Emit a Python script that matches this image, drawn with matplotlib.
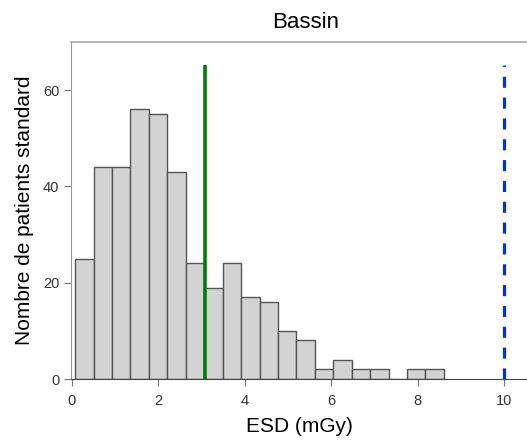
import matplotlib
matplotlib.use("Agg")
from matplotlib import pyplot as plt
import numpy as np

# Histogram counts (20 equal bins between the min and max ESD)
counts = [25, 44, 44, 56, 55, 43, 24, 19, 24, 17,
          16, 10, 8, 2, 4, 2, 2, 0, 2, 2]
esd_min = 0.08
esd_max = 8.6

# Reference lines
median_esd = 3.09
ndr_esd = 10.0
line_top = 65.3

x_ticks = [0, 2, 4, 6, 8, 10]
y_ticks = [0, 20, 40, 60]

plt.rcParams['font.family'] = ['Liberation Sans', 'DejaVu Sans']
plt.rcParams['lines.scale_dashes'] = False

fig = plt.figure(figsize=(5.27, 4.4), dpi=100)
ax = fig.add_axes([71 / 527, 61 / 440, 456 / 527, 337 / 440])

edges = np.linspace(esd_min, esd_max, len(counts) + 1)
ax.bar(edges[:-1], counts, width=np.diff(edges), align='edge',
       color='#d3d3d3', edgecolor='#555555', linewidth=1.0)

ax.plot([median_esd, median_esd], [0, line_top], color='#008000',
        linewidth=2.6, solid_capstyle='butt')
ax.plot([ndr_esd, ndr_esd], [0, line_top], color='#0033dd',
        linewidth=2.3, dashes=(8, 7), dash_capstyle='butt')

ax.set_xlim(-0.015, 10.52)
ax.set_ylim(0, 70)
ax.set_xticks(x_ticks)
ax.set_yticks(y_ticks)

ax.spines['right'].set_visible(False)
ax.spines['top'].set_color('#aaaaaa')
ax.spines['top'].set_linewidth(1.2)
ax.spines['left'].set_color('#999999')
ax.spines['bottom'].set_color('#444444')
ax.tick_params(axis='both', colors='#777777', labelcolor='#333333',
               labelsize=10.5, length=5)
ax.tick_params(axis='x', pad=6)

ax.set_title("Bassin", fontsize=16, x=0.514, pad=10)
ax.set_xlabel("ESD (mGy)", fontsize=15, labelpad=6)
ax.set_ylabel("Nombre de patients standard", fontsize=15)
ax.yaxis.set_label_coords(-0.082, 0.5)

fig.savefig("out.png", dpi=100)
